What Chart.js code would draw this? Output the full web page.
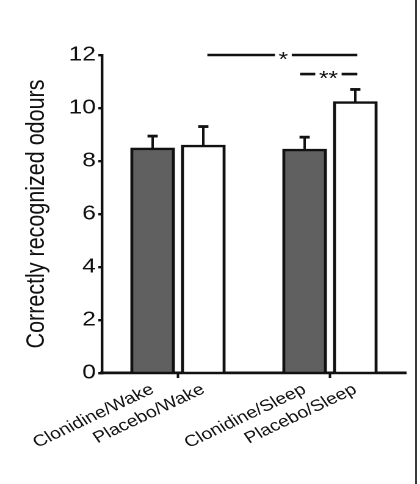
<!DOCTYPE html>
<html>
<head>
<meta charset="utf-8">
<script src="https://cdn.jsdelivr.net/npm/chart.js@4.4.1/dist/chart.umd.min.js"></script>
<style>
  html, body { margin: 0; padding: 0; background: #fff; }
  #page { position: relative; width: 420px; height: 484px; overflow: hidden; }
  /* the original figure is stretched sideways, so the chart is drawn narrower and widened */
  #wrap { position: absolute; left: 0; top: 0; width: 344px; height: 484px;
          transform: scaleX(1.2209); transform-origin: 0 0; }
  #frame { position: absolute; left: 415px; top: 0; width: 2px; height: 484px; background: #3a3a3a; }
</style>
</head>
<body>
<div id="page">
  <div id="wrap"><canvas id="chart" width="344" height="484"></canvas></div>
  <div id="frame"></div>
</div>
<script>
// groups and where they sit on the x axis (slot 3 is the gap between Wake and Sleep)
const groups = ['Clonidine/Wake', 'Placebo/Wake', 'Clonidine/Sleep', 'Placebo/Sleep'];
const slots = [1, 2, 4, 5];
const means = [8.49, 8.60, 8.45, 10.24];
const sem = [0.45, 0.70, 0.45, 0.46];
const fills = ['#606060', '#ffffff', '#606060', '#ffffff'];

const yTicks = [0, 2, 4, 6, 8, 10, 12];
const groupTicks = [1.5, 4.5];

// significance brackets
const sigFrom = [2.08, 3.91];
const sigTo = [5.04, 5.04];
const sigMid = [3.58, 4.47];
const sigAt = [12, 11.28];
const sigText = ['*', '**'];

const FONT = "'Liberation Sans', Arial, sans-serif";
const INK = '#111';

const extras = {
  id: 'extras',
  afterDatasetsDraw(chart) {
    const {ctx, scales: {x, y}} = chart;
    const meta = chart.getDatasetMeta(0);
    ctx.save();
    ctx.strokeStyle = '#111';
    ctx.lineCap = 'butt';

    // error bars, upper half only
    meta.data.forEach((bar, i) => {
      const top = y.getPixelForValue(means[i]);
      const end = y.getPixelForValue(means[i] + sem[i]);
      ctx.lineWidth = 2;
      ctx.beginPath();
      ctx.moveTo(bar.x, top);
      ctx.lineTo(bar.x, end);
      ctx.stroke();
      ctx.lineWidth = 2.8;
      ctx.beginPath();
      ctx.moveTo(bar.x - 4.2, end);
      ctx.lineTo(bar.x + 4.2, end);
      ctx.stroke();
    });

    // small ticks between the bars of each pair
    const y0 = y.getPixelForValue(0);
    ctx.lineWidth = 2;
    groupTicks.forEach(v => {
      const px = x.getPixelForValue(v);
      ctx.beginPath();
      ctx.moveTo(px, y0);
      ctx.lineTo(px, y0 + 5);
      ctx.stroke();
    });

    // significance lines with stars
    ctx.font = '20px ' + FONT;
    ctx.fillStyle = INK;
    ctx.textAlign = 'center';
    ctx.textBaseline = 'alphabetic';
    sigText.forEach((t, k) => {
      const py = y.getPixelForValue(sigAt[k]);
      const xa = x.getPixelForValue(sigFrom[k]);
      const xb = x.getPixelForValue(sigTo[k]);
      const xc = x.getPixelForValue(sigMid[k]);
      const half = ctx.measureText(t).width / 2 + 3;
      ctx.lineWidth = 2.6;
      ctx.beginPath();
      ctx.moveTo(xa, py);
      ctx.lineTo(xc - half, py);
      ctx.moveTo(xc + half, py);
      ctx.lineTo(xb, py);
      ctx.stroke();
      ctx.fillText(t, xc, py + 11);
    });
    ctx.restore();
  }
};

new Chart(document.getElementById('chart'), {
  type: 'bar',
  data: {
    datasets: [{
      data: slots.map((s, i) => ({x: s, y: means[i]})),
      backgroundColor: fills,
      borderColor: '#111',
      borderWidth: 2.5,
      borderSkipped: 'bottom',
      barThickness: 36
    }]
  },
  options: {
    responsive: false,
    devicePixelRatio: 2,
    animation: false,
    layout: { padding: { top: 55, right: 11.5, bottom: 0, left: 0 } },
    plugins: { legend: { display: false }, tooltip: { enabled: false } },
    scales: {
      x: {
        type: 'linear',
        min: 0,
        max: 6,
        offset: false,
        afterBuildTicks: s => { s.ticks = slots.map(v => ({value: v})); },
        afterFit: s => { s.height = 111; s.paddingLeft = 0; s.paddingRight = 0; },
        grid: { display: false, drawTicks: false },
        border: { display: true, color: '#111', width: 2.7 },
        ticks: {
          autoSkip: false,
          minRotation: 30,
          maxRotation: 30,
          padding: 7,
          color: INK,
          font: { family: FONT, size: 16 },
          callback: (v) => groups[slots.indexOf(v)]
        }
      },
      y: {
        min: 0,
        max: 12,
        afterBuildTicks: s => { s.ticks = yTicks.map(v => ({value: v})); },
        afterFit: s => { s.width = 83.5; },
        grid: { drawOnChartArea: false, drawTicks: true, tickLength: 3, color: '#111', lineWidth: 2.4 },
        border: { display: true, color: '#111', width: 2.2 },
        ticks: {
          padding: 2,
          color: INK,
          font: { family: FONT, size: 20 }
        },
        title: {
          display: true,
          text: 'Correctly recognized odours',
          color: INK,
          font: { family: FONT, size: 21.5 },
          padding: { top: 17, bottom: 0 }
        }
      }
    }
  },
  plugins: [extras]
});
</script>
</body>
</html>
